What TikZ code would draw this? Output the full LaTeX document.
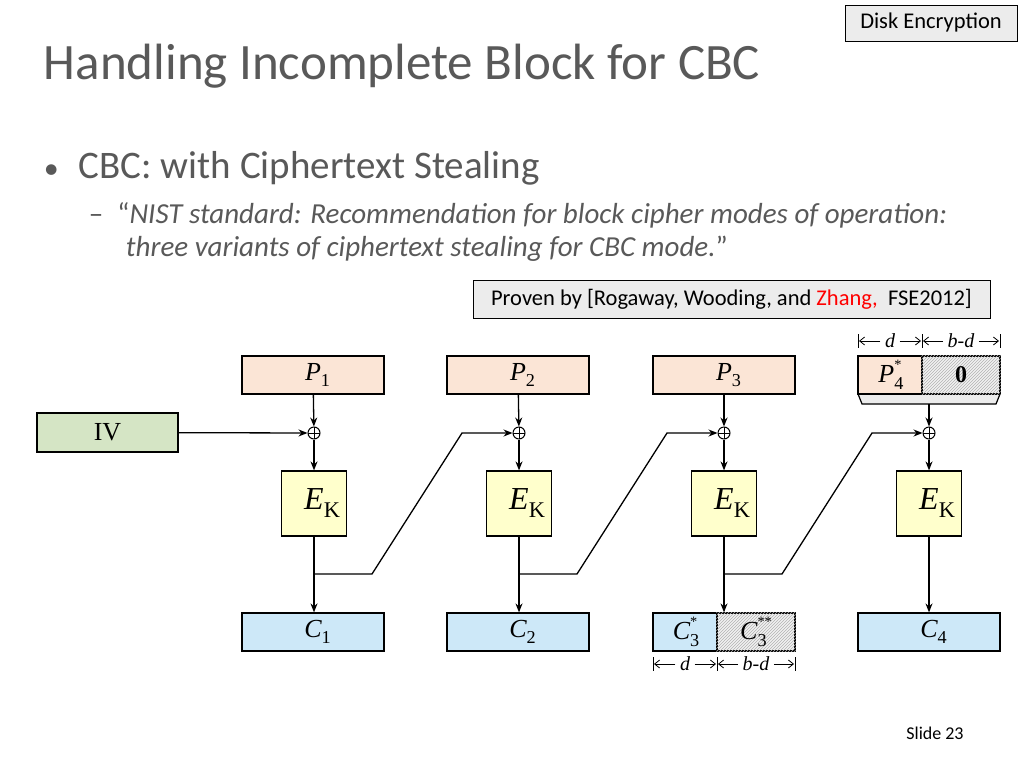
\documentclass[tikz,border=0pt]{standalone}
\usepackage{fontspec}
\setmainfont{Carlito}
\newfontfamily\tms{Liberation Serif}
\usetikzlibrary{patterns,arrows.meta}
\newcommand{\sym}[3]{{\itshape #1}\raisebox{-0.25em}{\makebox[0pt][l]{\scalebox{0.7}{\upshape #2}}\raisebox{0.75em}{\scalebox{0.55}{\upshape #3}}}}
\begin{document}
\begin{tikzpicture}[x=1pt,y=-1pt,
  pbox/.style={draw,fill=pfill,minimum width=142pt,minimum height=38pt,inner sep=0pt,font=\tms\fontsize{26}{26}\selectfont},
  ebox/.style={draw,fill=efill,minimum width=65pt,minimum height=65pt,inner sep=0pt,font=\tms\fontsize{32}{32}\selectfont},
  cbox/.style={draw,fill=cfill,minimum width=142pt,minimum height=38pt,inner sep=0pt,font=\tms\fontsize{26}{26}\selectfont},
  xorn/.style={circle,draw,line width=1pt,minimum size=12pt,inner sep=0pt,path picture={\draw[line width=1pt] (path picture bounding box.north)--(path picture bounding box.south) (path picture bounding box.west)--(path picture bounding box.east);}},
  arr/.style={-{Stealth[length=9pt,width=7pt]},line width=1.3pt},
  ln/.style={line width=1.2pt},
  hatch/.style={pattern=north east lines,pattern color=gray!60},
  dim/.style={font=\tms\itshape\fontsize{20}{20}\selectfont}]
\definecolor{pfill}{HTML}{FBE5D6}
\definecolor{efill}{HTML}{FFFFCC}
\definecolor{cfill}{HTML}{CDE8F8}
\definecolor{ivfill}{HTML}{D5E5C5}
\definecolor{ttl}{HTML}{595959}
\useasboundingbox[fill=white] (0,0) rectangle (1024,768);
\tikzset{every node/.append style={line width=1.2pt}}
% header
\node[draw,fill=gray!15,line width=0.8pt,minimum width=172pt,minimum height=36pt,font=\fontsize{22.5}{22.5}\selectfont] (de) at (931,23) {Disk Encryption};
\node[anchor=west,text=ttl,font=\fontsize{51}{51}\selectfont] (title) at (40,66) {Handling Incomplete Block for CBC};
\node[anchor=west,text=ttl,font=\fontsize{39}{39}\selectfont] (b1) at (40,168) {{\fontsize{30}{30}\selectfont•}\hspace{20pt}CBC: with Ciphertext Stealing};
\node[anchor=west,text=ttl,font=\fontsize{29}{29}\selectfont] (b2a) at (85,215) {–\hspace{14pt}“\textit{NIST standard: Recommendation for block cipher modes of operation:}};
\node[anchor=west,text=ttl,font=\fontsize{29}{29}\selectfont] (b2b) at (122,249) {\textit{three variants of ciphertext stealing for CBC mode.}”};
\node[draw,fill=gray!15,line width=0.8pt,minimum width=517pt,minimum height=38pt,font=\fontsize{22.5}{22.5}\selectfont] (pv) at (731.5,299) {Proven by [Rogaway, Wooding, and \textcolor{red}{Zhang,}\ \ FSE2012]};
\node[font=\fontsize{18}{18}\selectfont] (sl) at (935,733) {Slide 23};
% plaintext
\node[pbox] (p1) at (313,375) {\sym{P}{1}{}};
\node[pbox] (p2) at (518,375) {\sym{P}{2}{}};
\node[pbox] (p3) at (724,375) {\sym{P}{3}{}};
\fill[gray!15] (858,394) -- (1000,394) -- (996,404) -- (862,404) -- cycle;
\draw[ln] (858,394) -- (862,404) -- (996,404) -- (1000,394);
\node[pbox,minimum width=64pt] (p4a) at (890,375) {\sym{P}{4}{*}};
\node[draw,fill=gray!10,minimum width=78pt,minimum height=38pt] (p4b) at (961,375) {};
\fill[hatch] (p4b.south west) rectangle (p4b.north east);
\node[font=\tms\bfseries\fontsize{24}{24}\selectfont] (z) at (p4b) {0};
\coordinate (p4) at (929,404);
\node[draw,fill=ivfill,minimum width=141pt,minimum height=39pt,font=\tms\fontsize{26}{26}\selectfont] (iv) at (107.5,432.5) {IV};
% xor
\node[xorn] (x1) at (314,433) {};
\node[xorn] (x2) at (519,433) {};
\node[xorn] (x3) at (724,433) {};
\node[xorn] (x4) at (929,433) {};
% E
\node[ebox] (e1) at (314,503.5) {\sym{E}{K}{}};
\node[ebox] (e2) at (519,503.5) {\sym{E}{K}{}};
\node[ebox] (e3) at (724,503.5) {\sym{E}{K}{}};
\node[ebox] (e4) at (929,503.5) {\sym{E}{K}{}};
% C
\node[cbox] (c1) at (313,632) {\sym{C}{1}{}};
\node[cbox] (c2) at (518,632) {\sym{C}{2}{}};
\node[cbox,minimum width=64pt] (c3a) at (685,632) {\sym{C}{3}{*}};
\node[draw,fill=gray!10,minimum width=78pt,minimum height=38pt] (c3b) at (756,632) {};
\fill[hatch] (c3b.south west) rectangle (c3b.north east);
\node[font=\tms\fontsize{26}{26}\selectfont] (c3bl) at (c3b) {\sym{C}{3}{**}};
\node[cbox] (c4) at (929,632) {\sym{C}{4}{}};
% arrows
\draw[arr] (p1) -- (x1);
\draw[arr] (p2) -- (x2);
\draw[arr] (p3) -- (x3);
\draw[arr] (p4) -- (x4);
\draw[arr] (iv) -- (x1);
\foreach \i in {1,2,3,4} {\draw[arr] (x\i) -- (e\i);}
\draw[arr] (e1) -- (c1.north -| e1);
\draw[arr] (e2) -- (c2.north -| e2);
\draw[arr] (e3) -- (c3a.north -| e3);
\draw[arr] (e4) -- (c4.north -| e4);
\coordinate (f1) at (314,574);
\coordinate (f2) at (519,574);
\coordinate (f3) at (724,574);
\draw[arr] (f1) -- (372,574) -- (462,433) -- (x2);
\draw[arr] (f2) -- (577,574) -- (667,433) -- (x3);
\draw[arr] (f3) -- (782,574) -- (872,433) -- (x4);
% dimensions
\foreach \a/\b/\y/\t in {858/922/341/d,922/1000/341/b-d,653/717/664/d,717/795/664/b-d}{
  \draw[line width=0.8pt] (\a,\y-7) -- (\a,\y+7) (\b,\y-7) -- (\b,\y+7);
  \node[dim,inner sep=4pt] (t) at ({(\a+\b)/2},\y) {\t};
  \draw[-{Straight Barb[length=5pt,width=8pt]},line width=0.8pt] (t.west) -- (\a+1,\y);
  \draw[-{Straight Barb[length=5pt,width=8pt]},line width=0.8pt] (t.east) -- (\b-1,\y);
}
\end{tikzpicture}
\end{document}
